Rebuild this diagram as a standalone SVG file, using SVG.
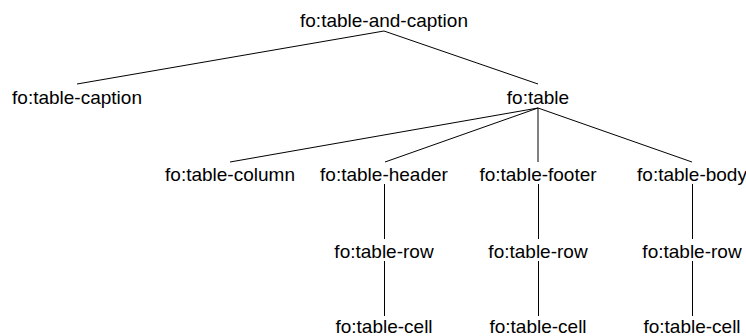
<svg xmlns="http://www.w3.org/2000/svg" width="746" height="336" viewBox="0 0 746 336">
<style>
text{font-family:"Liberation Sans",Arial,sans-serif;font-size:19px;fill:#000;text-anchor:middle}
line{stroke:#000;stroke-width:1}
</style>
<rect width="746" height="336" fill="#fff"/>
<g id="connectors">
<line x1="384" y1="31" x2="77" y2="84"/>
<line x1="384" y1="31" x2="538" y2="84"/>
<line x1="538" y1="108" x2="230" y2="162"/>
<line x1="538" y1="108" x2="385" y2="162"/>
<line x1="538" y1="108" x2="538" y2="162"/>
<line x1="538" y1="108" x2="692" y2="162"/>
<line x1="384.5" y1="184" x2="384.5" y2="239"/>
<line x1="538.5" y1="184" x2="538.5" y2="239"/>
<line x1="692.5" y1="184" x2="692.5" y2="239"/>
<line x1="384.5" y1="261" x2="384.5" y2="316"/>
<line x1="538.5" y1="261" x2="538.5" y2="316"/>
<line x1="692.5" y1="261" x2="692.5" y2="316"/>
</g>
<g id="root"><text x="384" y="27">fo:table-and-caption</text></g>
<g id="caption"><text x="77" y="104">fo:table-caption</text></g>
<g id="table"><text x="538" y="104">fo:table</text></g>
<g id="column"><text x="230" y="181">fo:table-column</text></g>
<g id="header"><text x="384" y="181">fo:table-header</text></g>
<g id="footer"><text x="538" y="181">fo:table-footer</text></g>
<g id="body"><text x="692" y="181">fo:table-body</text></g>
<g id="row1"><text x="384" y="258">fo:table-row</text></g>
<g id="row2"><text x="538" y="258">fo:table-row</text></g>
<g id="row3"><text x="692" y="258">fo:table-row</text></g>
<g id="cell1"><text x="384" y="333">fo:table-cell</text></g>
<g id="cell2"><text x="538" y="333">fo:table-cell</text></g>
<g id="cell3"><text x="692" y="333">fo:table-cell</text></g>
</svg>
